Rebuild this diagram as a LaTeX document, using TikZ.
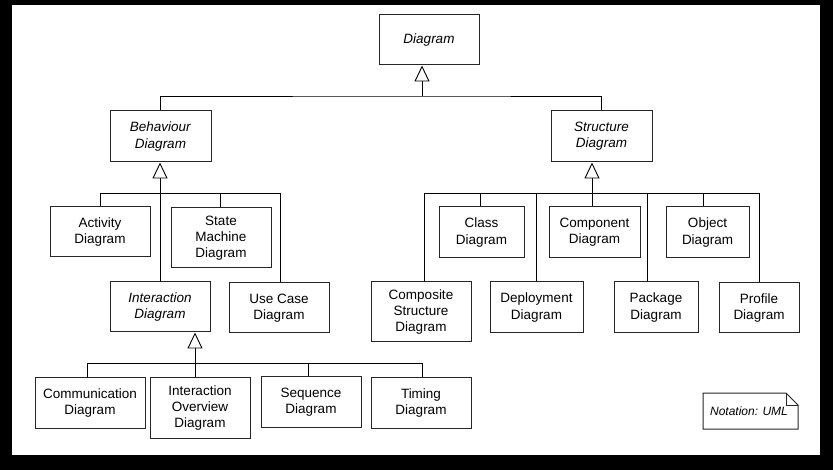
\documentclass[tikz,border=0pt]{standalone}
\usepackage{fontspec}
\setmainfont{Liberation Sans}
\usetikzlibrary{arrows.meta,calc}
\begin{document}
\begin{tikzpicture}[x=1pt,y=-1pt,
  box/.style={draw=black!85, line width=1pt, fill=white, inner sep=0pt, align=center,
              font=\fontsize{13.5}{16.3}\selectfont},
  conn/.style={line width=0.9pt, black},
  inh/.style={conn, -{Triangle[open, length=16pt, width=15pt, line width=0.9pt]}},
]
\useasboundingbox (0,0) rectangle (833,470);
\fill[black] (0,0) rectangle (833,470);
\fill[white] (12,5) rectangle (820,455);

% nodes
\node[box, minimum width=100, minimum height=50] (diag) at (429,40) {\textit{Diagram}};
\node[box, minimum width=101, minimum height=51] (beh) at (160.5,136.5) {\textit{Behaviour}\\\textit{Diagram}};
\node[box, minimum width=101, minimum height=51] (str) at (601.5,136.5) {\textit{Structure}\\\textit{Diagram}};

\node[box, minimum width=100, minimum height=50] (act) at (100,232) {Activity\\Diagram};
\node[box, minimum width=100, minimum height=60] (sm) at (221,238) {State\\Machine\\Diagram};
\node[box, minimum width=100, minimum height=50] (inter) at (160,307) {\textit{Interaction}\\\textit{Diagram}};
\node[box, minimum width=100, minimum height=50] (uc) at (279,308) {Use Case\\Diagram};

\node[box, minimum width=110, minimum height=50] (comm) at (90,403) {Communication\\Diagram};
\node[box, minimum width=100, minimum height=60] (io) at (200,408) {Interaction\\Overview\\Diagram};
\node[box, minimum width=100, minimum height=50] (seq) at (311,402) {Sequence\\Diagram};
\node[box, minimum width=100, minimum height=50] (tim) at (421,403) {Timing\\Diagram};

\node[box, minimum width=85, minimum height=51] (cls) at (481.5,232.5) {Class\\Diagram};
\node[box, minimum width=91, minimum height=51] (cmpt) at (594.5,232.5) {Component\\Diagram};
\node[box, minimum width=83, minimum height=51] (obj) at (707.5,232.5) {Object\\Diagram};
\node[box, minimum width=100, minimum height=60] (comp) at (421,312) {Composite\\Structure\\Diagram};
\node[box, minimum width=93, minimum height=51] (dep) at (536.5,307.5) {Deployment\\Diagram};
\node[box, minimum width=84, minimum height=51] (pkg) at (656,307.5) {Package\\Diagram};
\node[box, minimum width=80, minimum height=50] (prof) at (759,308) {Profile\\Diagram};

% note
\draw[draw=black!85, line width=1pt, fill=white] (703,393) -- (786,393) -- (798,405) -- (798,429) -- (703,429) -- cycle;
\draw[draw=black!85, line width=0.9pt] (786,393) -- (786,405) -- (798,405);
\node[inner sep=0pt, font=\fontsize{12}{14}\selectfont\itshape] (note) at (749,411) {Notation: UML};

% top level
\coordinate (b0) at (422,96);
\draw[inh] (b0) -- (b0 |- diag.south);
\draw[conn] (beh.north) |- (b0) -| (str.north);

% behaviour group
\coordinate (b1) at (160,193);
\draw[inh] (inter.north) -- (inter.north |- beh.south);
\coordinate (ba) at (100,193);
\coordinate (bs) at (220,193);
\coordinate (bu) at (280,193);
\draw[conn] (ba |- act.north) -- (ba) -- (bu) -- (bu |- uc.north);
\draw[conn] (bs) -- (bs |- sm.north);

% interaction group
\coordinate (b2) at (195,363);
\coordinate (c1) at (87,363);
\coordinate (c3) at (308,363);
\coordinate (c4) at (422,363);
\draw[inh] (b2 |- io.north) -- (b2 |- inter.south);
\draw[conn] (c1 |- comm.north) -- (c1) -- (c4) -- (c4 |- tim.north);
\draw[conn] (c3) -- (c3 |- seq.north);

% structure group
\coordinate (s0) at (592,193);
\coordinate (sA) at (424,193);
\coordinate (sB) at (480,193);
\coordinate (sC) at (536,193);
\coordinate (sD) at (647,193);
\coordinate (sE) at (703,193);
\coordinate (sF) at (759,193);
\draw[inh] (s0 |- cmpt.north) -- (s0 |- str.south);
\draw[conn] (sA |- comp.north) -- (sA) -- (sF) -- (sF |- prof.north);
\draw[conn] (sB) -- (sB |- cls.north);
\draw[conn] (sC) -- (sC |- dep.north);
\draw[conn] (sD) -- (sD |- pkg.north);
\draw[conn] (sE) -- (sE |- obj.north);
\end{tikzpicture}
\end{document}
